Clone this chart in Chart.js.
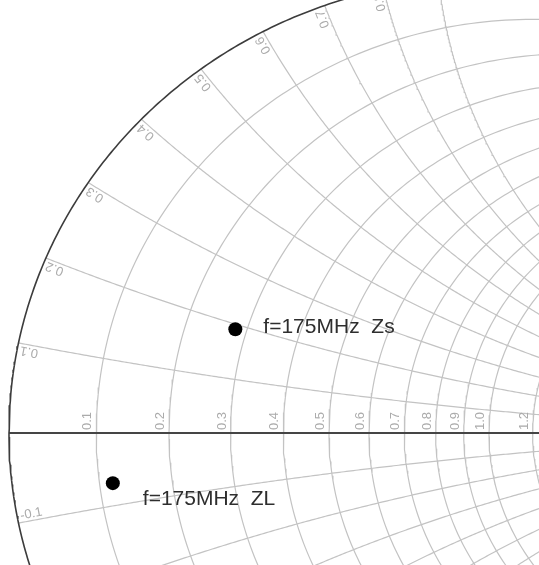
<!DOCTYPE html>
<html>
<head>
<meta charset="utf-8">
<script src="https://cdn.jsdelivr.net/npm/chart.js@4.4.1/dist/chart.umd.min.js"></script>
<style>
  html, body { margin: 0; padding: 0; background: #ffffff; overflow: hidden; }
  canvas { display: block; }
</style>
</head>
<body>
<canvas id="c" width="539" height="565" style="width:539px;height:565px"></canvas>
<script>
// ---- Data (normalized impedance Smith chart) ----
const resistanceCircles = [0.1, 0.2, 0.3, 0.4, 0.5, 0.6, 0.7, 0.8, 0.9, 1.0, 1.2, 1.4, 1.6, 1.8, 2.0];
const resistanceLabels  = ["0.1", "0.2", "0.3", "0.4", "0.5", "0.6", "0.7", "0.8", "0.9", "1.0", "1.2"];
const reactanceArcs     = [0.1, 0.2, 0.3, 0.4, 0.5, 0.6, 0.7, 0.8, 0.9, 1.0, 1.2, 1.4, 1.6, 1.8, 2.0,
                           -0.1, -0.2, -0.3, -0.4, -0.5, -0.6, -0.7, -0.8, -0.9, -1.0, -1.2, -1.4, -1.6, -1.8, -2.0];
const reactanceLabels   = ["0.1", "0.2", "0.3", "0.4", "0.5", "0.6", "0.7", "0.8", "-0.1"];
const reactanceLabelValues = [0.1, 0.2, 0.3, 0.4, 0.5, 0.6, 0.7, 0.8, -0.1];
const pointNames  = ["f=175MHz  Zs", "f=175MHz  ZL"];
const pointR      = [0.280, 0.117];
const pointX      = [0.191, -0.069];

// visible window of the reflection-coefficient plane
const gammaReMin = -1.01875, gammaReMax = 0.10417;
const gammaImMin = -0.29011, gammaImMax = 0.95165;

// ---- helpers (z -> gamma) ----
function zToGamma(r, x) {
  const nr = r - 1, ni = x, dr = r + 1, di = x;
  const d = dr * dr + di * di;
  return { x: (nr * dr + ni * di) / d, y: (ni * dr - nr * di) / d };
}
function circlePts(cx, cy, rad, a0, a1, n) {
  const pts = [];
  for (let i = 0; i <= n; i++) {
    const a = a0 + (a1 - a0) * i / n;
    pts.push({ x: cx + rad * Math.cos(a), y: cy + rad * Math.sin(a) });
  }
  return pts;
}

const GRID = '#c3c3c3';
const datasets = [];

datasets.push({
  data: pointR.map((r, i) => zToGamma(r, pointX[i])),
  pointRadius: 7, pointBackgroundColor: '#000', pointBorderColor: '#000',
  pointBorderWidth: 0, showLine: false, order: 0
});
datasets.push({
  data: circlePts(0, 0, 1, 0, 2 * Math.PI, 720),
  showLine: true, borderColor: '#3c3c3c', borderWidth: 1.6, pointRadius: 0, order: 1
});
datasets.push({
  data: [{ x: -1, y: 0 }, { x: 1, y: 0 }],
  showLine: true, borderColor: '#454545', borderWidth: 1.8, pointRadius: 0, order: 2
});
resistanceCircles.forEach(r => {
  datasets.push({
    data: circlePts(r / (1 + r), 0, 1 / (1 + r), 0, 2 * Math.PI, 400),
    showLine: true, borderColor: GRID, borderWidth: 1.2, pointRadius: 0, order: 3
  });
});
reactanceArcs.forEach(xv => {
  const s = Math.sign(xv), ax = Math.abs(xv);
  const cy = 1 / ax, rad = 1 / ax;
  const e = zToGamma(0, ax);
  const phiE = Math.atan2(e.y - cy, e.x - 1);
  const pts = circlePts(1, cy, rad, -Math.PI / 2, phiE, 400).map(p => ({ x: p.x, y: s * p.y }));
  datasets.push({
    data: pts, showLine: true, borderColor: GRID, borderWidth: 1.2, pointRadius: 0, order: 3
  });
});

const labelPlugin = {
  id: 'smithLabels',
  afterDraw(chart) {
    const ctx = chart.ctx, sx = chart.scales.x, sy = chart.scales.y;
    const P = (gx, gy) => ({ x: sx.getPixelForValue(gx), y: sy.getPixelForValue(gy) });
    ctx.save();
    ctx.fillStyle = '#ababab';
    ctx.font = '13px "Liberation Sans", Arial, sans-serif';
    const axisY = P(0, 0).y;
    resistanceLabels.forEach(t => {
      const r = parseFloat(t);
      const p = P((r - 1) / (r + 1), 0);
      ctx.save();
      ctx.translate(p.x - 2, axisY - 3);
      ctx.rotate(-Math.PI / 2);
      ctx.textAlign = 'left';
      ctx.textBaseline = 'bottom';
      ctx.fillText(t, 0, 0);
      ctx.restore();
    });
    reactanceLabels.forEach((t, i) => {
      const xv = reactanceLabelValues[i];
      const e = zToGamma(0, xv);
      const pe = P(e.x, e.y);
      const pi = P(e.x * 0.9, e.y * 0.9);
      let dx = pi.x - pe.x, dy = pi.y - pe.y;
      const L = Math.hypot(dx, dy); dx /= L; dy /= L;
      const ax = pe.x + dx * 3, ay = pe.y + dy * 3;
      ctx.save();
      ctx.translate(ax, ay);
      if (xv > 0) {
        ctx.rotate(Math.atan2(-dy, -dx));
        ctx.textAlign = 'right';
      } else {
        ctx.rotate(Math.atan2(dy, dx));
        ctx.textAlign = 'left';
      }
      ctx.textBaseline = 'bottom';
      ctx.fillText(t, 0, 0);
      ctx.restore();
    });
    const meta = chart.getDatasetMeta(0);
    const offs = [[28, 4], [30, 22]];
    ctx.fillStyle = '#2e2e2e';
    ctx.font = '21px "Liberation Sans", Arial, sans-serif';
    ctx.textAlign = 'left';
    ctx.textBaseline = 'alphabetic';
    meta.data.forEach((el, i) => {
      ctx.fillText(pointNames[i], el.x + offs[i][0], el.y + offs[i][1]);
    });
    ctx.restore();
  }
};

new Chart(document.getElementById('c'), {
  type: 'scatter',
  data: { datasets },
  options: {
    responsive: false,
    maintainAspectRatio: false,
    devicePixelRatio: 1,
    animation: false,
    events: [],
    layout: { padding: 0, autoPadding: false },
    plugins: { legend: { display: false }, tooltip: { enabled: false } },
    elements: { line: { tension: 0, fill: false } },
    scales: {
      x: { type: 'linear', min: gammaReMin, max: gammaReMax, display: false },
      y: { type: 'linear', min: gammaImMin, max: gammaImMax, display: false }
    }
  },
  plugins: [labelPlugin]
});
</script>
</body>
</html>
